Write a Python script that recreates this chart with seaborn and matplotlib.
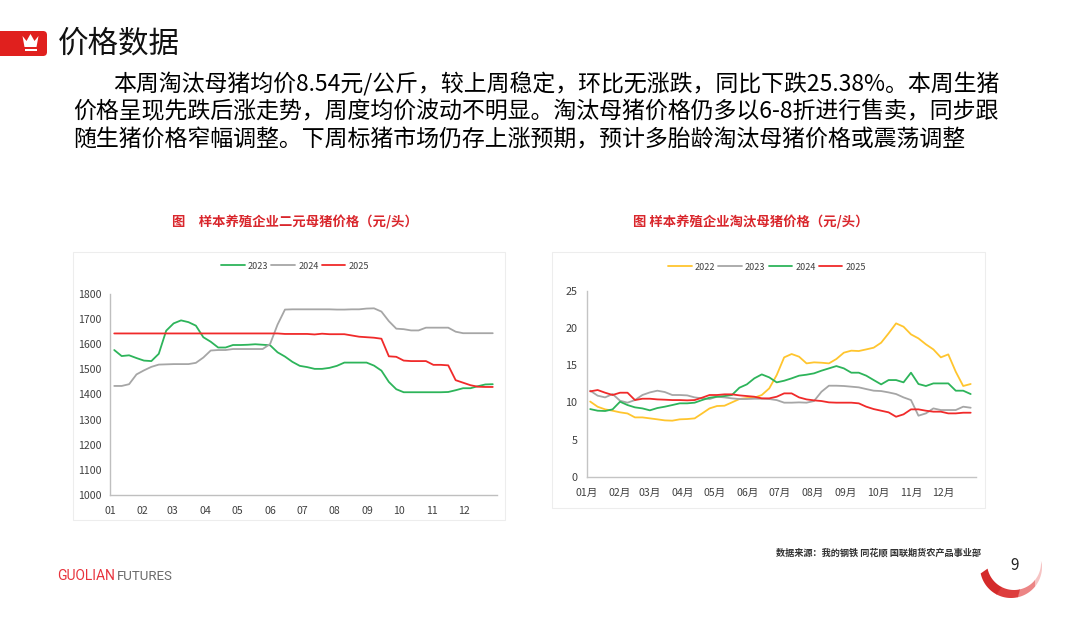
import numpy as np
import pandas as pd
import seaborn as sns
import matplotlib.pyplot as plt
from matplotlib.patches import FancyBboxPatch, Polygon, Rectangle

sns.set_theme(style="white")
plt.rcParams['font.family'] = ['Noto Sans CJK SC', 'DejaVu Sans']
plt.rcParams['axes.unicode_minus'] = False

W, H = 1080, 627

# left chart: 样本养殖企业二元母猪价格 (元/头), weekly
sow_2023 = [1577, 1553, 1556, 1545, 1535, 1533, 1562, 1654, 1683, 1695,
            1688, 1674, 1628, 1610, 1587, 1587, 1597, 1597, 1598, 1600,
            1598, 1596, 1568, 1551, 1530, 1514, 1509, 1502, 1502, 1506,
            1514, 1527, 1527, 1527, 1527, 1515, 1495, 1450, 1421, 1409,
            1409, 1409, 1409, 1409, 1409, 1410, 1417, 1425, 1425, 1433,
            1440, 1441]
sow_2024 = [1434, 1434, 1441, 1480, 1496, 1510, 1519, 1520, 1521, 1521,
            1521, 1526, 1547, 1575, 1577, 1577, 1581, 1581, 1581, 1581,
            1581, 1601, 1678, 1738, 1739, 1739, 1739, 1739, 1739, 1739,
            1738, 1738, 1739, 1739, 1742, 1743, 1730, 1692, 1662, 1660,
            1655, 1655, 1666, 1666, 1666, 1666, 1650, 1644, 1644, 1644,
            1644, 1644]
sow_2025 = [1643, 1643, 1643, 1643, 1643, 1643, 1643, 1643, 1643, 1643,
            1643, 1643, 1643, 1643, 1643, 1643, 1643, 1643, 1643, 1643,
            1643, 1643, 1643, 1641, 1641, 1641, 1641, 1639, 1642, 1640,
            1640, 1640, 1635, 1630, 1628, 1626, 1622, 1552, 1550, 1535,
            1533, 1533, 1533, 1518, 1518, 1516, 1457, 1447, 1437, 1431,
            1430, 1430]

# right chart: 样本养殖企业淘汰母猪价格, weekly
cull_2022 = [10.1, 9.4, 9.05, 8.87, 8.65, 8.5, 7.97, 7.97, 7.84, 7.71,
             7.57, 7.53, 7.71, 7.75, 7.84, 8.5, 9.18, 9.5, 9.54, 9.99,
             10.44, 10.57, 10.62, 10.98, 11.87, 13.66, 16.04, 16.49, 16.13, 15.23,
             15.37, 15.32, 15.23, 15.82, 16.67, 16.94, 16.89, 17.11, 17.34, 18.01,
             19.27, 20.61, 20.16, 19.13, 18.59, 17.79, 17.11, 16.04, 16.44, 14.11,
             12.19, 12.46]
cull_2023 = [11.56, 10.89, 10.66, 11.11, 10.21, 9.95, 10.3, 10.98, 11.33, 11.56,
             11.38, 10.98, 10.98, 10.93, 10.66, 10.53, 10.44, 10.75, 10.66, 10.53,
             10.44, 10.44, 10.48, 10.48, 10.44, 10.3, 9.95, 9.95, 9.99, 9.95,
             10.17, 11.42, 12.23, 12.23, 12.19, 12.1, 12.01, 11.78, 11.56, 11.51,
             11.33, 11.11, 10.66, 10.3, 8.2, 8.51, 9.18, 8.96, 8.96, 8.96,
             9.41, 9.27]
cull_2024 = [9.09, 8.87, 8.83, 9.05, 10.08, 9.63, 9.32, 9.18, 8.92, 9.23,
             9.41, 9.63, 9.86, 9.86, 9.95, 10.3, 10.62, 10.75, 10.84, 10.98,
             11.96, 12.41, 13.22, 13.75, 13.35, 12.68, 12.9, 13.22, 13.58, 13.71,
             13.89, 14.25, 14.56, 14.87, 14.56, 13.98, 13.98, 13.58, 12.99, 12.41,
             12.99, 12.99, 12.68, 13.98, 12.46, 12.19, 12.54, 12.54, 12.54, 11.56,
             11.56, 11.11]
cull_2025 = [11.47, 11.65, 11.29, 10.98, 11.29, 11.29, 10.3, 10.48, 10.48, 10.39,
             10.35, 10.3, 10.3, 10.26, 10.3, 10.62, 10.98, 10.98, 11.07, 11.07,
             10.93, 10.84, 10.75, 10.53, 10.53, 10.75, 11.2, 11.2, 10.66, 10.39,
             10.26, 10.17, 9.99, 9.95, 9.95, 9.95, 9.86, 9.41, 9.09, 8.87,
             8.65, 8.06, 8.38, 9.05, 9.05, 8.87, 8.74, 8.74, 8.51, 8.51,
             8.6, 8.6]

month_start = [0, 31, 59, 90, 120, 151, 181, 212, 243, 273, 304, 334]
labels_left = ['01', '02', '03', '04', '05', '06', '07', '08', '09', '10', '11', '12']
labels_right = [m + '月' for m in labels_left]

title_main = '价格数据'
para = ['本周淘汰母猪均价8.54元/公斤，较上周稳定，环比无涨跌，同比下跌25.38%。本周生猪',
        '价格呈现先跌后涨走势，周度均价波动不明显。淘汰母猪价格仍多以6-8折进行售卖，同步跟',
        '随生猪价格窄幅调整。下周标猪市场仍存上涨预期，预计多胎龄淘汰母猪价格或震荡调整']
title_left = '图\u3000样本养殖企业二元母猪价格（元/头）'
title_right = '图 样本养殖企业淘汰母猪价格（元/头）'
source = '数据来源：我的钢铁 同花顺 国联期货农产品事业部'


def to_long(series, offset):
    rows = []
    for year, vals in series.items():
        for i, v in enumerate(vals):
            rows.append({'year': year, 'day': offset + 7 * i, 'price': v})
    return pd.DataFrame(rows)


left_df = to_long({'2023': sow_2023, '2024': sow_2024, '2025': sow_2025}, 4)
right_df = to_long({'2022': cull_2022, '2023': cull_2023,
                    '2024': cull_2024, '2025': cull_2025}, 3)

c_yel, c_gray, c_green, c_red = '#FFC52E', '#A6A6A6', '#2DB45A', '#F02A2A'

fig = plt.figure(figsize=(W / 100, H / 100), dpi=100, facecolor='white')

# page decoration, drawn in pixel coords
bg = fig.add_axes([0, 0, 1, 1], zorder=0)
bg.set_xlim(0, W)
bg.set_ylim(H, 0)
bg.axis('off')
bg.add_patch(FancyBboxPatch((-8, 31), 55, 25, boxstyle='round,pad=0,rounding_size=4',
                            fc='#E0201E', ec='none'))
bg.add_patch(Polygon([(22.5, 36), (26.5, 41), (30.5, 34), (34.5, 41), (38.5, 36),
                      (36.5, 47), (24.5, 47)], closed=True, fc='white', ec='none'))
bg.add_patch(Rectangle((24.5, 49), 12, 1.8, fc='white', ec='none'))
bg.text(58, 44, title_main, fontsize=22, color='#111111', va='center', ha='left')
bg.text(113, 84, para[0], fontsize=16.5, color='#000000', va='center', ha='left')
bg.text(73, 112, para[1], fontsize=16.5, color='#000000', va='center', ha='left')
bg.text(73, 140, para[2], fontsize=16.5, color='#000000', va='center', ha='left')

bg.text(295, 222, title_left, fontsize=9.6, fontweight='bold', color='#D9262C',
        ha='center', va='center')
bg.text(751, 222, title_right, fontsize=9.6, fontweight='bold', color='#D9262C',
        ha='center', va='center')
bg.add_patch(Rectangle((73, 252), 432, 268, fc='white', ec='#EDEDED', lw=0.8))
bg.add_patch(Rectangle((552, 252), 433, 256, fc='white', ec='#EDEDED', lw=0.8))

bg.text(981, 553, source, fontsize=6.6, fontweight='bold', color='#333333',
        ha='right', va='center')
bg.text(57, 576, 'GUOLIAN', fontsize=10, family='Roboto', color='#E8323C',
        ha='left', va='center')
bg.text(117, 576, 'FUTURES', fontsize=9.5, family='Roboto', color='#6A6A6A',
        ha='left', va='center')

# page-number crescent: outer circle minus shifted inner circle
oc, orad = np.array([1011.0, 567.0]), 31.0
ic, irad = np.array([1014.0, 563.0]), 27.0
bands = [(-5, 40, '#F6C4C4'), (39, 78, '#EC8585'), (77, 118, '#DD3D3D'), (117, 168, '#D42A2A')]
for a1, a2, col in bands:
    t = np.radians(np.linspace(a1, a2, 30))
    outer = np.c_[oc[0] + orad * np.cos(t), oc[1] + orad * np.sin(t)]
    inner = np.c_[ic[0] + irad * np.cos(t[::-1]), ic[1] + irad * np.sin(t[::-1])]
    bg.add_patch(Polygon(np.vstack([outer, inner]), closed=True, fc=col, ec='none'))
bg.text(1015, 565, '9', fontsize=11, color='#222222', ha='center', va='center')

# left chart
axl = fig.add_axes([110 / W, 1 - 495 / H, 387 / W, 201 / H], zorder=2)
axl.set_facecolor('none')
sns.lineplot(data=left_df, x='day', y='price', hue='year',
             palette={'2023': c_green, '2024': c_gray, '2025': c_red},
             linewidth=1.3, ax=axl)
axl.set_xlim(0, 365)
axl.set_ylim(1000, 1800)
axl.set_yticks(range(1000, 1801, 100))
axl.set_xticks(month_start + [365])
axl.set_xticklabels(labels_left + [''])
mids = [(a + b) / 2 for a, b in zip(month_start, month_start[1:] + [365])]
axl.set_xticks(mids, minor=True)
axl.set_xlabel('')
axl.set_ylabel('')
for s in ['top', 'right']:
    axl.spines[s].set_visible(False)
for s in ['left', 'bottom']:
    axl.spines[s].set_color('#BFBFBF')
    axl.spines[s].set_linewidth(1.0)
axl.tick_params(axis='x', which='both', direction='inout', length=4, width=0.8,
                color='#BFBFBF', labelsize=7.6, labelcolor='#404040', pad=6)
axl.tick_params(axis='y', length=0, labelsize=7.6, labelcolor='#404040', pad=6)
sns.move_legend(axl, 'center', bbox_to_anchor=(295 / W, 1 - 266 / H),
                bbox_transform=fig.transFigure, ncol=3, title=None, frameon=False,
                fontsize=6.5, handlelength=2.6, handletextpad=0.35,
                columnspacing=0.35, labelcolor='#404040')

# right chart
axr = fig.add_axes([587 / W, 1 - 476.7 / H, 389 / W, 186 / H], zorder=2)
axr.set_facecolor('none')
sns.lineplot(data=right_df, x='day', y='price', hue='year',
             palette={'2022': c_yel, '2023': c_gray, '2024': c_green, '2025': c_red},
             linewidth=1.3, ax=axr)
axr.set_xlim(0, 365)
axr.set_ylim(0, 25)
axr.set_yticks(range(0, 26, 5))
axr.set_xticks(month_start + [365])
axr.set_xticklabels(labels_right + [''])
axr.set_xlabel('')
axr.set_ylabel('')
for s in ['top', 'right']:
    axr.spines[s].set_visible(False)
for s in ['left', 'bottom']:
    axr.spines[s].set_color('#C4C4C4')
    axr.spines[s].set_linewidth(1.0)
axr.tick_params(axis='x', direction='out', length=3, width=0.8, color='#C4C4C4',
                labelsize=7.6, labelcolor='#404040', pad=5)
axr.tick_params(axis='y', length=0, labelsize=7.8, labelcolor='#404040', pad=7)
sns.move_legend(axr, 'center', bbox_to_anchor=(767 / W, 1 - 267 / H),
                bbox_transform=fig.transFigure, ncol=4, title=None, frameon=False,
                fontsize=6.5, handlelength=2.6, handletextpad=0.35,
                columnspacing=0.35, labelcolor='#404040')

fig.savefig('out.png', dpi=100, facecolor='white')
